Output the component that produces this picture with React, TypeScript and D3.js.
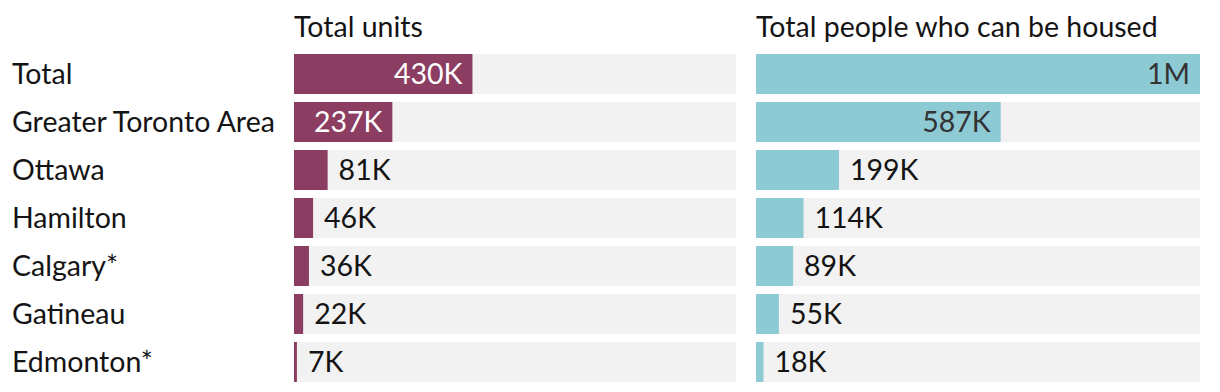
import React from "react";
import * as d3 from "d3";

const categories = ["Total", "Greater Toronto Area", "Ottawa", "Hamilton", "Calgary*", "Gatineau", "Edmonton*"];
const units = [430000, 237000, 81000, 46000, 36000, 22000, 7000];
const people = [1065000, 587000, 199000, 114000, 89000, 55000, 18000];
const panelTitles = ["Total units", "Total people who can be housed"];

const W = 1220;
const H = 392;
const FONT = "Lato, 'Open Sans', sans-serif";
const FS = 28.5;

function fmt(v: number): string {
  if (v >= 1e6) return Math.round(v / 1e6) + "M";
  return Math.round(v / 1e3) + "K";
}

export default function App() {
  const maxV = d3.max(people.concat(units)) as number;
  const y = d3.scaleBand<string>().domain(categories).range([54, 54 + 48 * categories.length - 8]).paddingInner(8 / 48).paddingOuter(0);
  const panels = [
    { x0: 294, x1: 736, values: units, color: "#8b3d62", inText: "#ffffff" },
    { x0: 756, x1: 1200, values: people, color: "#8ecad4", inText: "#333333" },
  ];
  return (
    <svg width={W} height={H} style={{ position: "absolute", left: 0, top: 0, background: "#fff" }} fontFamily={FONT}>
      {categories.map((c) => (
        <text key={c} x={12} y={(y(c) as number) + y.bandwidth() / 2} dy="0.36em" fontSize={FS} fill="#141414">{c}</text>
      ))}
      {panels.map((p, pi) => {
        const x = d3.scaleLinear().domain([0, maxV]).range([p.x0, p.x1]);
        return (
          <g key={pi}>
            <text x={p.x0} y={37} fontSize={FS} fill="#141414">{panelTitles[pi]}</text>
            {p.values.map((v, i) => {
              const c = categories[i];
              const yy = y(c) as number;
              const w = x(v) - p.x0;
              const inside = w > 90;
              return (
                <g key={i}>
                  <rect x={p.x0} y={yy} width={p.x1 - p.x0} height={y.bandwidth()} fill="#f2f2f2" />
                  <rect x={p.x0} y={yy} width={w} height={y.bandwidth()} fill={p.color} />
                  <text
                    x={inside ? x(v) - 10 : x(v) + 11}
                    y={yy + y.bandwidth() / 2}
                    dy="0.36em"
                    fontSize={FS}
                    textAnchor={inside ? "end" : "start"}
                    fill={inside ? p.inText : "#141414"}
                  >
                    {fmt(v)}
                  </text>
                </g>
              );
            })}
          </g>
        );
      })}
    </svg>
  );
}
